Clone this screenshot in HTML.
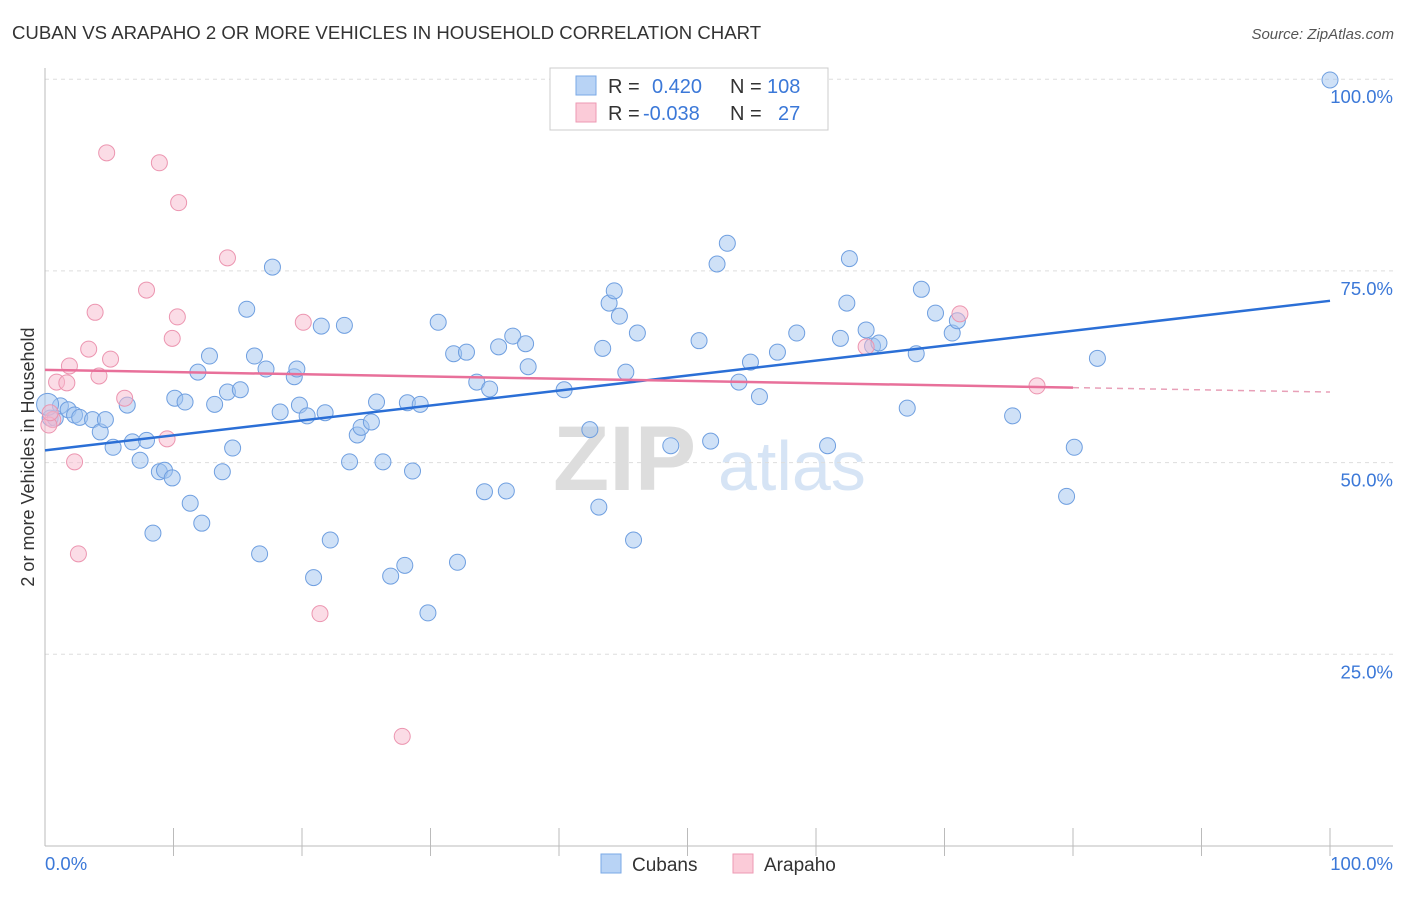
<!DOCTYPE html>
<html><head><meta charset="utf-8"><style>
body{margin:0;background:#fff;font-family:"Liberation Sans",sans-serif;}
svg text{font-family:"Liberation Sans",sans-serif;}
</style></head><body>
<svg id="chart" width="1406" height="892">
<text x="12" y="39" font-size="18.6" fill="#333">CUBAN VS ARAPAHO 2 OR MORE VEHICLES IN HOUSEHOLD CORRELATION CHART</text>
<text x="1394" y="39" font-size="15" fill="#555" text-anchor="end" font-style="italic">Source: ZipAtlas.com</text>
<text x="553" y="490" font-size="92" fill="#ddd" font-family="Liberation Serif" font-weight="bold">ZIP</text>
<text x="718" y="490" font-size="70" fill="#d6e4f5">atlas</text>
<text transform="translate(34,457) rotate(-90)" font-size="18" fill="#333" text-anchor="middle">2 or more Vehicles in Household</text>
<g id="grid"></g><g id="marks"></g>
<g>
<rect x="550" y="68" width="278" height="62" fill="#fff" stroke="#ccc"/>
<rect x="576" y="76" width="20" height="19" fill="#b8d3f5" stroke="#7aa8e6"/>
<text x="608" y="93" font-size="20" fill="#333">R =</text><text x="652" y="93" font-size="20" fill="#3b78d8">0.420</text>
<text x="730" y="93" font-size="20" fill="#333">N =</text><text x="767" y="93" font-size="20" fill="#3b78d8">108</text>
<rect x="576" y="103" width="20" height="19" fill="#fbcbd8" stroke="#ee9ab3"/>
<text x="608" y="120" font-size="20" fill="#333">R =</text><text x="643" y="120" font-size="20" fill="#3b78d8">-0.038</text>
<text x="730" y="120" font-size="20" fill="#333">N =</text><text x="778" y="120" font-size="20" fill="#3b78d8">27</text>
</g>
<g>
<rect x="601" y="854" width="20" height="19" fill="#b8d3f5" stroke="#7aa8e6"/>
<text x="632" y="871" font-size="19" fill="#333">Cubans</text>
<rect x="733" y="854" width="20" height="19" fill="#fbcbd8" stroke="#ee9ab3"/>
<text x="764" y="871" font-size="19" fill="#333">Arapaho</text>
</g>
</svg>
<script>
const blueX=[100,0.4,0.8,1.2,1.8,2.3,2.7,3.7,4.3,4.7,5.3,6.4,6.8,7.4,7.9,8.4,8.9,9.3,9.9,10.1,10.9,11.3,11.9,12.2,12.8,13.2,13.8,14.2,14.6,15.2,15.7,16.3,16.7,17.2,17.7,18.3,19.4,19.6,19.8,20.4,20.9,21.5,21.8,22.2,23.3,23.7,24.3,24.6,25.4,25.8,26.3,26.9,28.0,28.2,28.6,29.2,29.8,30.6,31.8,32.1,32.8,33.6,34.2,34.6,35.3,35.9,36.4,37.4,37.6,40.4,42.4,43.1,43.4,43.9,44.3,44.7,45.2,45.8,46.1,48.7,50.9,51.8,52.3,53.1,54.0,54.9,55.6,57.0,58.5,60.9,61.9,62.4,62.6,63.9,64.4,64.9,67.1,67.8,68.2,69.3,70.6,71.0,75.3,79.5,80.1,81.9,0.2];
const blueY=[99.9,55.8,55.8,57.4,56.9,56.2,55.9,55.6,54.0,55.6,52.0,57.5,52.7,50.3,52.9,40.8,48.8,49.0,48.0,58.4,57.9,44.7,61.8,42.1,63.9,57.6,48.8,59.2,51.9,59.5,70.0,63.9,38.1,62.2,75.5,56.6,61.2,62.2,57.5,56.1,35.0,67.8,56.5,39.9,67.9,50.1,53.6,54.6,55.3,57.9,50.1,35.2,36.6,57.8,48.9,57.6,30.4,68.3,64.2,37.0,64.4,60.5,46.2,59.6,65.1,46.3,66.5,65.5,62.5,59.5,54.3,44.2,64.9,70.8,72.4,69.1,61.8,39.9,66.9,52.2,65.9,52.8,75.9,78.6,60.5,63.1,58.6,64.4,66.9,52.2,66.2,70.8,76.6,67.3,65.2,65.6,57.1,64.2,72.6,69.5,66.9,68.5,56.1,45.6,52.0,63.6,57.6];
const pinkX=[0.6,0.9,1.7,1.9,2.3,2.6,3.4,3.9,4.2,4.8,5.1,6.2,7.9,8.9,9.5,9.9,10.3,10.4,14.2,20.1,21.4,27.8,63.9,71.2,77.2,0.3,0.4];
const pinkY=[55.6,60.5,60.4,62.6,50.1,38.1,64.8,69.6,61.3,90.4,63.5,58.4,72.5,89.1,53.1,66.2,69.0,83.9,76.7,68.3,30.3,14.3,65.1,69.4,60.0,54.9,56.5];
const blueFit=[51.6,71.1];
const pinkFit=[62.1,59.2];
const yTicks=[100,75,50,25];
const NS='http://www.w3.org/2000/svg';
const sx=v=>45+v*12.85, sy=v=>846-v*7.668;
const grid=document.getElementById('grid'), marks=document.getElementById('marks');
function mk(t,a,p){const e=document.createElementNS(NS,t);for(const k in a)e.setAttribute(k,a[k]);p.appendChild(e);return e;}
yTicks.forEach(t=>{
 const l=mk('line',{x1:45,x2:1393,y1:sy(t),y2:sy(t),stroke:'#ddd','stroke-dasharray':'4,4'},grid);
 
 
 const tx=mk('text',{x:1393,y:sy(t)+24,'font-size':18.5,fill:'#3b78d8','text-anchor':'end'},grid);
 tx.textContent=t.toFixed(1)+'%';
 
 
});
const ax=mk('line',{x1:45,x2:1393,y1:846,y2:846,stroke:'#bbb'},grid);


const ay=mk('line',{x1:45,x2:45,y1:68,y2:846,stroke:'#bbb'},grid);


for(let i=1;i<=10;i++){const t=mk('line',{x1:sx(i*10),x2:sx(i*10),y1:828,y2:856,stroke:'#bbb'},grid);
 
 }
[['0.0%',45,'start'],['100.0%',1393,'end']].forEach(d=>{const t=mk('text',{x:d[1],y:870,'font-size':18.5,fill:'#3b78d8','text-anchor':d[2]},grid);t.textContent=d[0];
 
 });
blueX.forEach((x,i)=>{const c=mk('circle',{cx:sx(x),cy:sy(blueY[i]),r:i==blueX.length-1?11:8,fill:'rgba(160,195,240,0.5)',stroke:'#6f9fe0','stroke-width':1},marks);
 
 });
pinkX.forEach((x,i)=>{const c=mk('circle',{cx:sx(x),cy:sy(pinkY[i]),r:8,fill:'rgba(248,185,205,0.5)',stroke:'#ec95b0','stroke-width':1},marks);
 
 });
const bl=mk('line',{x1:sx(0),y1:sy(blueFit[0]),x2:sx(100),y2:sy(blueFit[1]),stroke:'#2b6fd6','stroke-width':2.5},marks);


const pm=pinkFit[0]+(pinkFit[1]-pinkFit[0])*0.8;
const pl=mk('line',{x1:sx(0),y1:sy(pinkFit[0]),x2:sx(80),y2:sy(pm),stroke:'#e8709a','stroke-width':2.5},marks);


const pd=mk('line',{x1:sx(80),y1:sy(pm),x2:sx(100),y2:sy(pinkFit[1]),stroke:'#e8a0b8','stroke-width':1.5,'stroke-dasharray':'6,5'},marks);


</script>
</body></html>
